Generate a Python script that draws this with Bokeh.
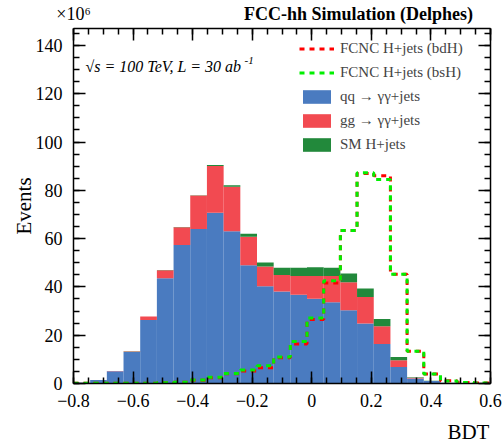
import numpy as np
from bokeh.plotting import figure
from bokeh.models import (FixedTicker, LinearAxis, Label, Legend, LegendItem,
                          Range1d, ColumnDataSource)
from bokeh.embed import file_html
from bokeh.resources import INLINE

# ---------------- data (values in units of 10^6 events) ----------------
bin_lo, bin_hi, n_bins = -0.8, 0.6, 25

qq_yy = [0.3, 1.5, 5.1, 13.0, 26.3, 43.6, 57.3, 64.0, 70.7, 63.0, 49.0, 40.3, 38.1,
         36.7, 35.1, 33.6, 30.3, 24.8, 16.4, 6.8, 2.1, 1.0, 0.3, 0.1, 0.05]
gg_yy = [0.0, 0.0, 0.1, 0.3, 1.4, 3.3, 7.4, 13.8, 19.4, 18.5, 11.8, 8.1, 6.8,
         7.8, 9.4, 10.9, 11.6, 11.0, 7.3, 2.8, 0.3, 0.05, 0.0, 0.0, 0.0]
sm_h = [0.0, 0.0, 0.0, 0.05, 0.05, 0.1, 0.1, 0.2, 0.4, 0.6, 1.2, 1.7, 3.0,
        3.4, 3.6, 3.4, 3.6, 3.5, 3.0, 1.4, 0.15, 0.05, 0.0, 0.0, 0.0]
fcnc_bdh = [0.1, 0.1, 0.1, 0.1, 0.15, 0.3, 0.5, 1.3, 2.4, 4.0, 5.2, 6.5, 10.7,
            16.4, 26.5, 41.6, 63.4, 87.0, 86.0, 45.2, 13.4, 3.9, 1.1, 0.4, 0.2]
fcnc_bsh = [0.1, 0.1, 0.1, 0.1, 0.15, 0.3, 0.5, 1.4, 2.6, 4.1, 5.6, 7.3, 11.0,
            17.4, 27.1, 42.5, 63.4, 87.3, 84.5, 45.2, 13.4, 3.9, 1.0, 0.4, 0.2]

x_ticks = [-0.8, -0.6, -0.4, -0.2, 0, 0.2, 0.4, 0.6]
x_tick_labels = ["\u22120.8", "\u22120.6", "\u22120.4", "\u22120.2", "0", "0.2", "0.4", "0.6"]
y_ticks = [0, 20, 40, 60, 80, 100, 120, 140]

labels = ["FCNC H+jets (bdH)", "FCNC H+jets (bsH)",
          "qq \u2192 \u03b3\u03b3+jets", "gg \u2192 \u03b3\u03b3+jets", "SM H+jets"]
title_text = "FCC-hh Simulation (Delphes)"
scale_text = "\u00d710\u2076"
x_title = "BDT"
y_title = "Events"

# ---------------- styling ----------------
BLUE, RED, GREEN = "#4a7bc0", "#f24a51", "#22893b"
SIG_RED, SIG_GREEN = "#ff0000", "#00f000"
FONT = "Liberation Serif"
EM, EN = "\u2003", "\u2002"   # spacing used to push centred axis labels to the right

edges = np.linspace(bin_lo, bin_hi, n_bins + 1)
centers = 0.5 * (edges[:-1] + edges[1:])
bw = edges[1] - edges[0]

src = ColumnDataSource(dict(x=centers, qq=qq_yy, gg=gg_yy, smh=sm_h))

p = figure(width=503, height=446,
           min_border_left=73, min_border_right=13, min_border_top=28, min_border_bottom=61,
           x_range=Range1d(bin_lo, bin_hi), y_range=Range1d(0, 147),
           output_backend="svg", toolbar_location=None)
p.xgrid.visible = False
p.ygrid.visible = False
p.outline_line_color = None
p.background_fill_color = "white"
p.border_fill_color = "white"

bars = p.vbar_stack(["qq", "gg", "smh"], x="x", width=bw * 1.002, source=src,
                    fill_color=[BLUE, RED, GREEN], line_color=None)

def step_xy(vals):
    xs = np.repeat(edges, 2)[1:-1]
    ys = np.repeat(np.asarray(vals, dtype=float), 2)
    return xs, ys

xr, yr = step_xy(fcnc_bdh)
r_bdh = p.line(xr, yr, line_color=SIG_RED, line_width=3, line_dash="5 5")
xg, yg = step_xy(fcnc_bsh)
r_bsh = p.line(xg, yg, line_color=SIG_GREEN, line_width=3, line_dash="5 5")

# ---------------- axes ----------------
xt = FixedTicker(ticks=x_ticks, minor_ticks=list(np.round(np.arange(-0.8, 0.6001, 0.05), 3)))
yt = FixedTicker(ticks=y_ticks, minor_ticks=list(range(0, 150, 5)))

def style_axis(ax, show_labels=True):
    ax.axis_line_color = "black"
    ax.axis_line_width = 1.5
    ax.major_tick_line_color = "black"
    ax.major_tick_line_width = 1.5
    ax.minor_tick_line_color = "black"
    ax.minor_tick_line_width = 1.5
    ax.major_tick_in = 12
    ax.major_tick_out = 0
    ax.minor_tick_in = 6
    ax.minor_tick_out = 0
    ax.major_label_text_font = FONT
    ax.major_label_text_font_size = "18px" if show_labels else "0px"
    ax.major_label_text_color = "black"
    ax.axis_label_text_font = FONT
    ax.axis_label_text_font_size = "21px"
    ax.axis_label_text_font_style = "normal"
    ax.axis_label_text_color = "black"
    if not show_labels:
        ax.major_label_standoff = 0

p.xaxis.ticker = xt
p.yaxis.ticker = yt
style_axis(p.xaxis[0])
style_axis(p.yaxis[0])
p.xaxis.major_label_overrides = dict(zip(x_ticks, x_tick_labels))
p.xaxis.major_label_standoff = 10
p.xaxis.axis_label = EM * 17 + EN + "\u00a0" + x_title
p.xaxis.axis_label_standoff = 10
p.yaxis.major_label_standoff = 11
p.yaxis.axis_label = y_title
p.yaxis.axis_label_standoff = -3

# top axis: mirrored ticks, carries the x10^6 scale text and the bold title
top_ax = LinearAxis(ticker=xt)
style_axis(top_ax)
top_ax.major_label_overrides = {t: (scale_text if i == 0 else "") for i, t in enumerate(x_ticks)}
top_ax.major_label_text_align = "left"
top_ax.major_label_standoff = 5
top_ax.axis_label = EM * 8 + EN + title_text
top_ax.axis_label_text_font_size = "18px"
top_ax.axis_label_text_font_style = "bold"
top_ax.axis_label_standoff = -23
p.add_layout(top_ax, "above")

right_ax = LinearAxis(ticker=yt)
style_axis(right_ax, show_labels=False)
right_ax.major_label_overrides = {t: "" for t in y_ticks}
p.add_layout(right_ax, "right")

# ---------------- legend ----------------
legend = Legend(items=[LegendItem(label=labels[0], renderers=[r_bdh]),
                       LegendItem(label=labels[1], renderers=[r_bsh]),
                       LegendItem(label=labels[2], renderers=[bars[0]]),
                       LegendItem(label=labels[3], renderers=[bars[1]]),
                       LegendItem(label=labels[4], renderers=[bars[2]])],
                location=(226, 230), padding=0, margin=0, spacing=7,
                glyph_width=35, glyph_height=17, label_height=17, label_standoff=6,
                label_text_font=FONT, label_text_font_size="15px",
                label_text_baseline="middle",
                border_line_alpha=0, background_fill_alpha=0)
p.add_layout(legend)

# ---------------- texts inside the frame ----------------
def lab(**kw):
    base = dict(text_font=FONT, text_color="black", x_units="screen", y_units="screen")
    base.update(kw)
    p.add_layout(Label(**base))

lab(x=12, y=317, text="\u221as = 100 TeV, L = 30 ab",
    text_font_style="italic", text_font_size="16px", text_align="left",
    text_baseline="alphabetic")
lab(x=171, y=323, text="-1", text_font_style="italic",
    text_font_size="11px", text_align="left", text_baseline="alphabetic")

open("out.html", "w").write(file_html(p, INLINE))
